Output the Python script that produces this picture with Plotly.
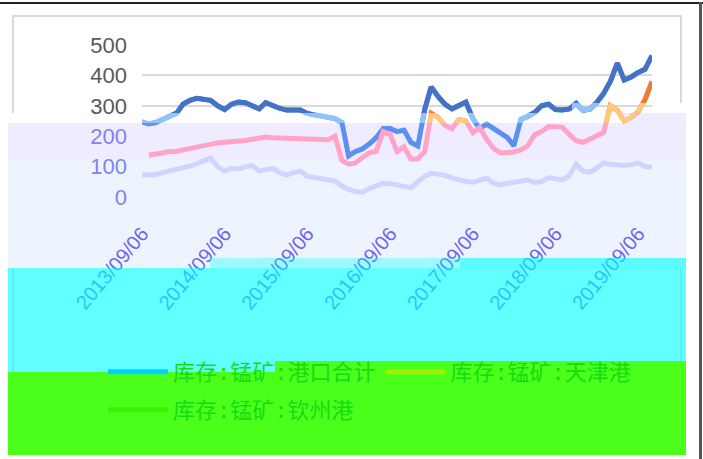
import pandas as pd
import plotly.graph_objects as go

# ---------------- data (monthly readings) ----------------
dates = pd.date_range("2013-09-01", periods=75, freq="MS") + pd.Timedelta(days=5)

port_total = [247, 240, 245, 255, 262, 276, 305, 318, 325, 322, 318, 300, 288, 305, 312,
              310, 300, 290, 310, 300, 292, 286, 288, 286, 275, 270, 265, 262, 258, 245,
              135, 150, 158, 175, 195, 225, 225, 215, 220, 180, 168, 290, 362, 330, 305,
              290, 300, 312, 258, 225, 240, 225, 212, 195, 168, 255, 265, 278, 300, 305,
              288, 286, 290, 308, 285, 290, 310, 340, 380, 440, 385, 395, 410, 420, 465]

tianjin = [None, 138, 140, 145, 150, 150, 155, 160, 165, 170, 175, 178, 180, 181, 183,
           186, 190, 193, 197, 195, 194, 193, 194, 192, 190, 187, 187, 188, 200, 120,
           108, 112, 130, 145, 150, 215, 205, 150, 165, 125, 125, 150, 275, 262, 235,
           225, 255, 250, 212, 228, 190, 160, 145, 145, 148, 155, 168, 205, 215, 232,
           230, 230, 205, 185, 180, 190, 200, 212, 300, 285, 250, 262, 280, 320, 380]

qinzhou = [72, 72, 74, 80, 85, 90, 95, 102, 110, 120, 128, 100, 85, 95, 92,
           100, 103, 85, 90, 95, 80, 72, 80, 85, 68, 62, 60, 57, 52, 36,
           25, 18, 16, 28, 35, 45, 44, 40, 38, 30, 50, 68, 78, 75, 72,
           62, 56, 52, 49, 55, 62, 45, 40, 45, 48, 52, 56, 48, 50, 64,
           60, 56, 70, 108, 85, 82, 95, 112, 108, 105, 104, 106, 112, 100, 98]

series_names = ["库存:锰矿:港口合计", "库存:锰矿:天津港", "库存:锰矿:钦州港"]
y_ticks_low = [0, 100, 200]
y_ticks_high = [300, 400, 500]

# ---------------- styling ----------------
W, H = 703, 459
PL, PR, PT, PB = 142, 652, 45, 197
YMAX = 500


def px(x):
    return (x - PL) / (PR - PL)


def py(y):
    return (PB - y) / (PB - PT)


top_col = ["#4472c4", "#ed7d31", "#a5a5a5"]
light_col = ["#8fc4ff", "#ffc97d", "#d0d0d0"]
low_col = ["#5d8ff2", "#ffa3c9", "#d2d4ff"]
legend_col = ["#00d2ff", "#a6ee00", "#3cf000"]
legend_ids = ["legend", "legend", "legend2"]
LW = 5

d_top = py(113)
d_mid = py(123)
d_right = py(103)
x_split = 572
t0, t1 = dates[0], dates[-1]
t_split = t0 + (t1 - t0) * px(x_split)

fig = go.Figure()
all_series = [port_total, tianjin, qinzhou]
layers = [("x", "y", low_col), ("x", "y2", light_col), ("x", "y3", top_col),
          ("x2", "y4", light_col)]
for xa, ya, cols in layers:
    for i, vals in enumerate(all_series):
        fig.add_trace(go.Scatter(x=dates, y=vals, mode="lines", xaxis=xa, yaxis=ya,
                                 line=dict(color=cols[i], width=LW), showlegend=False,
                                 hoverinfo="skip"))
for i, name in enumerate(series_names):
    fig.add_trace(go.Scatter(x=[None], y=[None], mode="lines", name=name,
                             legend=legend_ids[i],
                             line=dict(color=legend_col[i], width=5), showlegend=True))

font_main = "Liberation Sans, Arial, Noto Sans CJK SC"


def rect(x0, y0, x1, y1, fill, layer="below"):
    return dict(type="rect", xref="paper", yref="paper",
                x0=px(x0), x1=px(x1), y0=py(y1), y1=py(y0), layer=layer,
                fillcolor=fill, line=dict(width=0))


shapes = [
    dict(type="rect", xref="paper", yref="paper", x0=px(13), x1=px(681), y0=py(445), y1=py(16),
         line=dict(color="#d9d9d9", width=2), fillcolor="rgba(0,0,0,0)", layer="below"),
    rect(8, 113, 623, 123, "#ffffff"),
    rect(623, 103, 686, 113, "#ffffff"),
    rect(623, 113, 686, 123, "#f0ecff"),
    rect(8, 123, 686, 160, "#f0ecff"),
    rect(8, 160, 686, 268, "#eef4ff"),
    rect(8, 268, 686, 361, "rgba(0,255,255,0.62)", layer="above"),
    rect(460, 258, 686, 268, "rgba(0,255,255,0.62)", layer="above"),
    rect(210, 258, 460, 268, "rgba(0,255,255,0.33)", layer="above"),
    rect(8, 361, 275, 372, "rgba(0,255,255,0.62)", layer="above"),
    rect(8, 372, 686, 455, "#4cff1a", layer="above"),
    rect(275, 361, 686, 372, "#4cff1a", layer="above"),
    rect(0, 2, 703, 4, "#222222", layer="above"),
    rect(699, 2, 702, 459, "#555555", layer="above"),
]

legend_font = dict(family="Liberation Mono, Noto Sans CJK SC", size=22, color="#14dc14")

fig.update_layout(
    width=W, height=H,
    margin=dict(l=PL, r=W - PR, t=PT, b=H - PB, autoexpand=False),
    paper_bgcolor="#ffffff", plot_bgcolor="rgba(0,0,0,0)",
    font=dict(family=font_main, size=22, color="#595959"),
    xaxis=dict(type="date", range=[t0, t1], tick0=t0, dtick="M12",
               tickformat="%Y/%m/%d", tickangle=-50, showgrid=False, zeroline=False,
               showline=False, ticks="", ticklabelstandoff=20,
               tickfont=dict(size=20, color="#6e64eb"),
               automargin=False, anchor="y"),
    xaxis2=dict(type="date", domain=[px(x_split), 1], range=[t_split, t1], visible=False,
                anchor="y4"),
    yaxis=dict(domain=[0, 1], range=[0, YMAX], tickvals=y_ticks_low, showgrid=False,
               zeroline=False, showline=False, ticks="", ticklabelstandoff=14,
               tickfont=dict(size=22, color="#8383ee"), automargin=False, anchor="x"),
    yaxis2=dict(domain=[d_mid, d_top], range=[YMAX * d_mid, YMAX * d_top], visible=False,
                anchor="x"),
    yaxis3=dict(domain=[d_top, 1], range=[YMAX * d_top, YMAX], tickvals=y_ticks_high,
                showgrid=True, gridcolor="#d9d9d9", gridwidth=1.5, zeroline=False,
                showline=False, ticks="", ticklabelstandoff=14,
                tickfont=dict(size=22, color="#595959"), automargin=False, anchor="x"),
    yaxis4=dict(domain=[d_top, d_right], range=[YMAX * d_top, YMAX * d_right], visible=False,
                anchor="x2"),
    legend=dict(orientation="h", x=px(103), y=py(372), xanchor="left", yanchor="middle",
                font=legend_font, bgcolor="rgba(0,0,0,0)", itemwidth=60),
    legend2=dict(orientation="h", x=px(103), y=py(410), xanchor="left", yanchor="middle",
                 font=legend_font, bgcolor="rgba(0,0,0,0)", itemwidth=60),
    shapes=shapes,
    showlegend=True,
)

fig.write_html("out.html", config={"displayModeBar": False},
               post_script="document.body.style.margin='0px';")
